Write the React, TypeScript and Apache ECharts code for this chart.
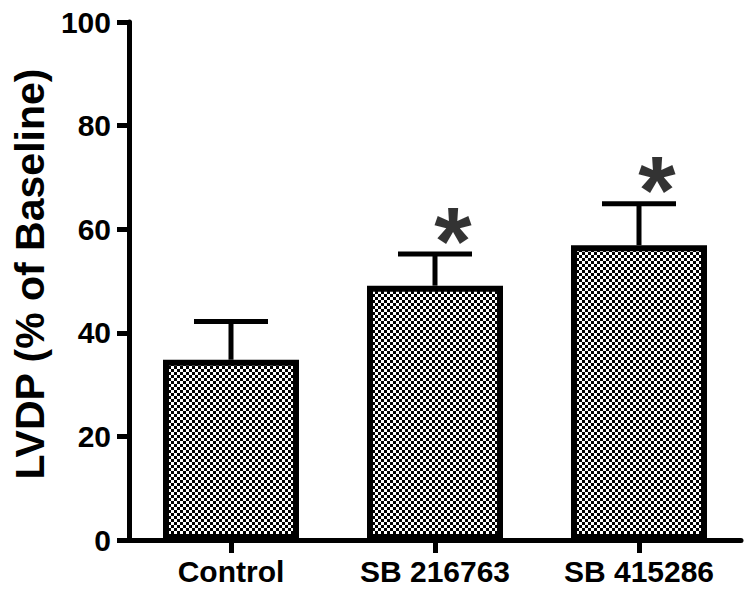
import React, { useEffect, useRef } from "react";
import * as echarts from "echarts";

const categories = ["Control", "SB 216763", "SB 415286"];
const means = [34.8, 49.1, 56.9];
const errorTops = [42.2, 55.2, 64.9];
const significant = [false, true, true];
const yMin = 0;
const yMax = 100;
const yInterval = 20;
const yTitle = "LVDP (% of Baseline)";

const FONT = "'Liberation Sans', Arial, Helvetica, sans-serif";

function makeChecker(): HTMLCanvasElement {
  const c = document.createElement("canvas");
  c.width = 6;
  c.height = 6;
  const ctx = c.getContext("2d")!;
  ctx.fillStyle = "#ffffff";
  ctx.fillRect(0, 0, 6, 6);
  ctx.fillStyle = "#000000";
  ctx.fillRect(0, 0, 3, 3);
  ctx.fillRect(3, 3, 3, 3);
  return c;
}

export default function App() {
  const ref = useRef<HTMLDivElement>(null);
  useEffect(() => {
    if (!ref.current) return;
    const chart = echarts.init(ref.current, null, { renderer: "svg" });
    const checker = makeChecker();
    const errData = categories.map((_, i) => [i, means[i], errorTops[i]]);
    const starData = categories
      .map((_, i) => (significant[i] ? [i, errorTops[i]] : null))
      .filter((d) => d !== null);

    chart.setOption({
      animation: false,
      backgroundColor: "#ffffff",
      grid: { left: 129, right: 13, top: 22, bottom: 56, containLabel: false },
      xAxis: {
        type: "category",
        data: categories,
        boundaryGap: true,
        axisLine: { show: true, lineStyle: { color: "#000", width: 5 } },
        axisTick: {
          show: true,
          alignWithLabel: true,
          length: 13,
          lineStyle: { color: "#000", width: 5 },
        },
        axisLabel: {
          color: "#000",
          fontFamily: FONT,
          fontWeight: "bold",
          fontSize: 30,
          margin: 16,
        },
        splitLine: { show: false },
      },
      yAxis: {
        type: "value",
        min: yMin,
        max: yMax,
        interval: yInterval,
        name: yTitle,
        nameLocation: "middle",
        nameGap: 79,
        nameTextStyle: {
          color: "#000",
          fontFamily: FONT,
          fontWeight: "bold",
          fontSize: 41,
          padding: [0, 0, 0, 14],
        },
        axisLine: { show: true, lineStyle: { color: "#000", width: 5 } },
        axisTick: { show: true, length: 12, lineStyle: { color: "#000", width: 5 } },
        axisLabel: {
          color: "#000",
          fontFamily: FONT,
          fontWeight: "bold",
          fontSize: 30,
          margin: 18,
        },
        splitLine: { show: false },
      },
      series: [
        {
          type: "custom",
          z: 1,
          data: errData,
          renderItem: (params: any, api: any) => {
            const base = api.coord([api.value(0), api.value(1)]);
            const top = api.coord([api.value(0), api.value(2)]);
            const half = 37;
            const style = { stroke: "#000", lineWidth: 5, fill: "none" };
            return {
              type: "group",
              children: [
                {
                  type: "line",
                  shape: { x1: base[0], y1: base[1], x2: top[0], y2: top[1] },
                  style,
                },
                {
                  type: "line",
                  shape: { x1: top[0] - half, y1: top[1], x2: top[0] + half, y2: top[1] },
                  style,
                },
              ],
            };
          },
        },
        {
          type: "bar",
          z: 2,
          data: means,
          barWidth: 136,
          itemStyle: {
            color: {
              image: checker,
              repeat: "repeat",
              imageWidth: 6,
              imageHeight: 6,
            } as any,
            borderColor: "#000",
            borderWidth: 6,
          },
        },
        {
          type: "scatter",
          z: 3,
          silent: true,
          data: starData,
          symbolSize: 0,
          label: {
            show: true,
            formatter: "*",
            position: "inside",
            offset: [18, -14],
            color: "#000",
            fontFamily: FONT,
            fontWeight: "bold",
            fontSize: 96,
            align: "center",
            verticalAlign: "middle",
          },
        },
      ],
    });
    return () => chart.dispose();
  }, []);
  return (
    <div
      ref={ref}
      style={{ position: "fixed", left: 0, top: 0, width: 754, height: 596, background: "#fff" }}
    />
  );
}
